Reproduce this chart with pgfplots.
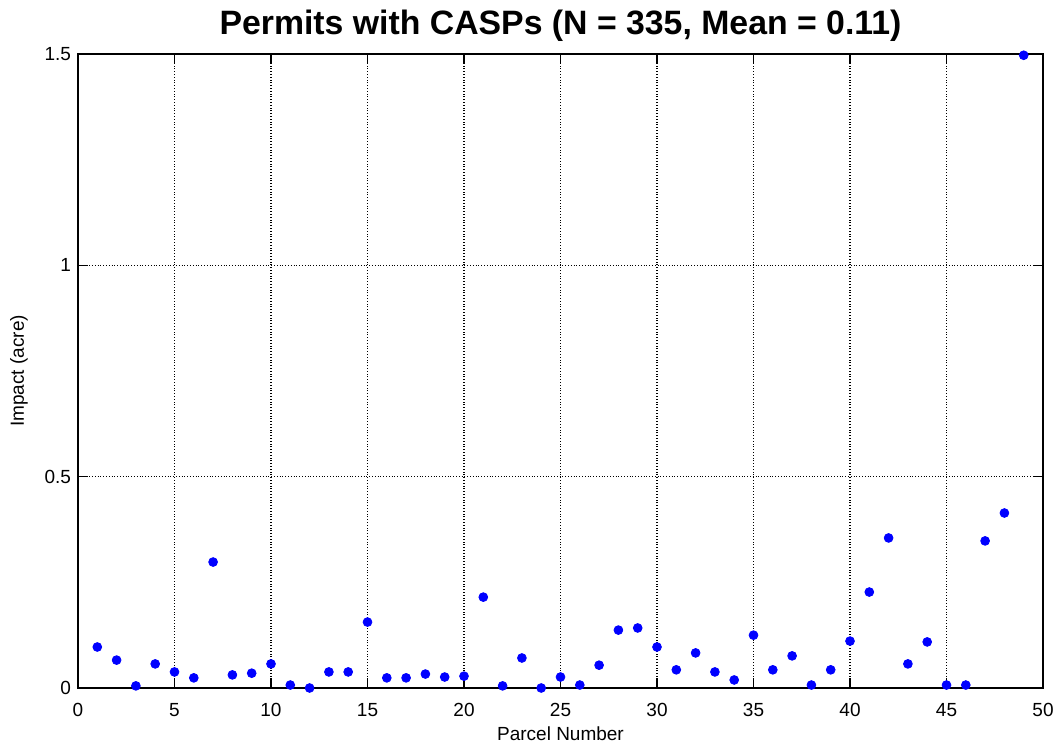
\documentclass[border=0pt]{standalone}
\usepackage{fontspec}
\setmainfont{Liberation Sans}
\usepackage{pgfplots}
\pgfplotsset{compat=1.18}
\begin{document}
\begin{tikzpicture}
\begin{axis}[
  scale only axis,
  width=482.5pt, height=317pt,
  xmin=0, xmax=50, ymin=0, ymax=1.5,
  xtick={0,5,...,50}, ytick={0,0.5,1,1.5},
  yticklabels={0,0.5,1,1.5},
  minor tick num=0,
  tick align=inside, tick pos=both,
  major tick length=5pt,
  grid=major,
  major grid style={black, densely dotted, line width=0.6pt},
  axis line style={black, line width=0.8pt},
  every tick/.style={black, line width=0.8pt},
  /pgf/number format/assume math mode=true,
  ticklabel style={font=\fontsize{9.5}{11}\selectfont},
  xticklabel style={yshift=-4pt},
  xlabel={Parcel Number},
  ylabel={Impact (acre)},
  label style={font=\fontsize{9.5}{11}\selectfont},
  xlabel style={yshift=2pt},
  ylabel style={yshift=1.5pt},
  title={Permits with CASPs (N = 335, Mean = 0.11)},
  title style={font=\fontsize{16.9}{19}\selectfont\bfseries, yshift=-3.2pt},
]
\addplot[only marks, mark=*, mark size=2.2pt, color={rgb,255:red,0;green,0;blue,255}] coordinates {
(1,0.097) (2,0.066) (3,0.005) (4,0.057) (5,0.038) (6,0.024) (7,0.298)
(8,0.031) (9,0.035) (10,0.057) (11,0.007) (12,0.0) (13,0.038) (14,0.038)
(15,0.156) (16,0.024) (17,0.024) (18,0.033) (19,0.026) (20,0.028) (21,0.215)
(22,0.005) (23,0.071) (24,0.0) (25,0.026) (26,0.007) (27,0.054) (28,0.137)
(29,0.142) (30,0.097) (31,0.043) (32,0.083) (33,0.038) (34,0.019) (35,0.125)
(36,0.043) (37,0.076) (38,0.007) (39,0.043) (40,0.111) (41,0.227) (42,0.355)
(43,0.057) (44,0.109) (45,0.007) (46,0.007) (47,0.348) (48,0.414) (49,1.497)
};
\end{axis}
\pgfresetboundingbox
\path (-39pt,-30pt) rectangle (490pt,344pt);
\end{tikzpicture}
\end{document}
